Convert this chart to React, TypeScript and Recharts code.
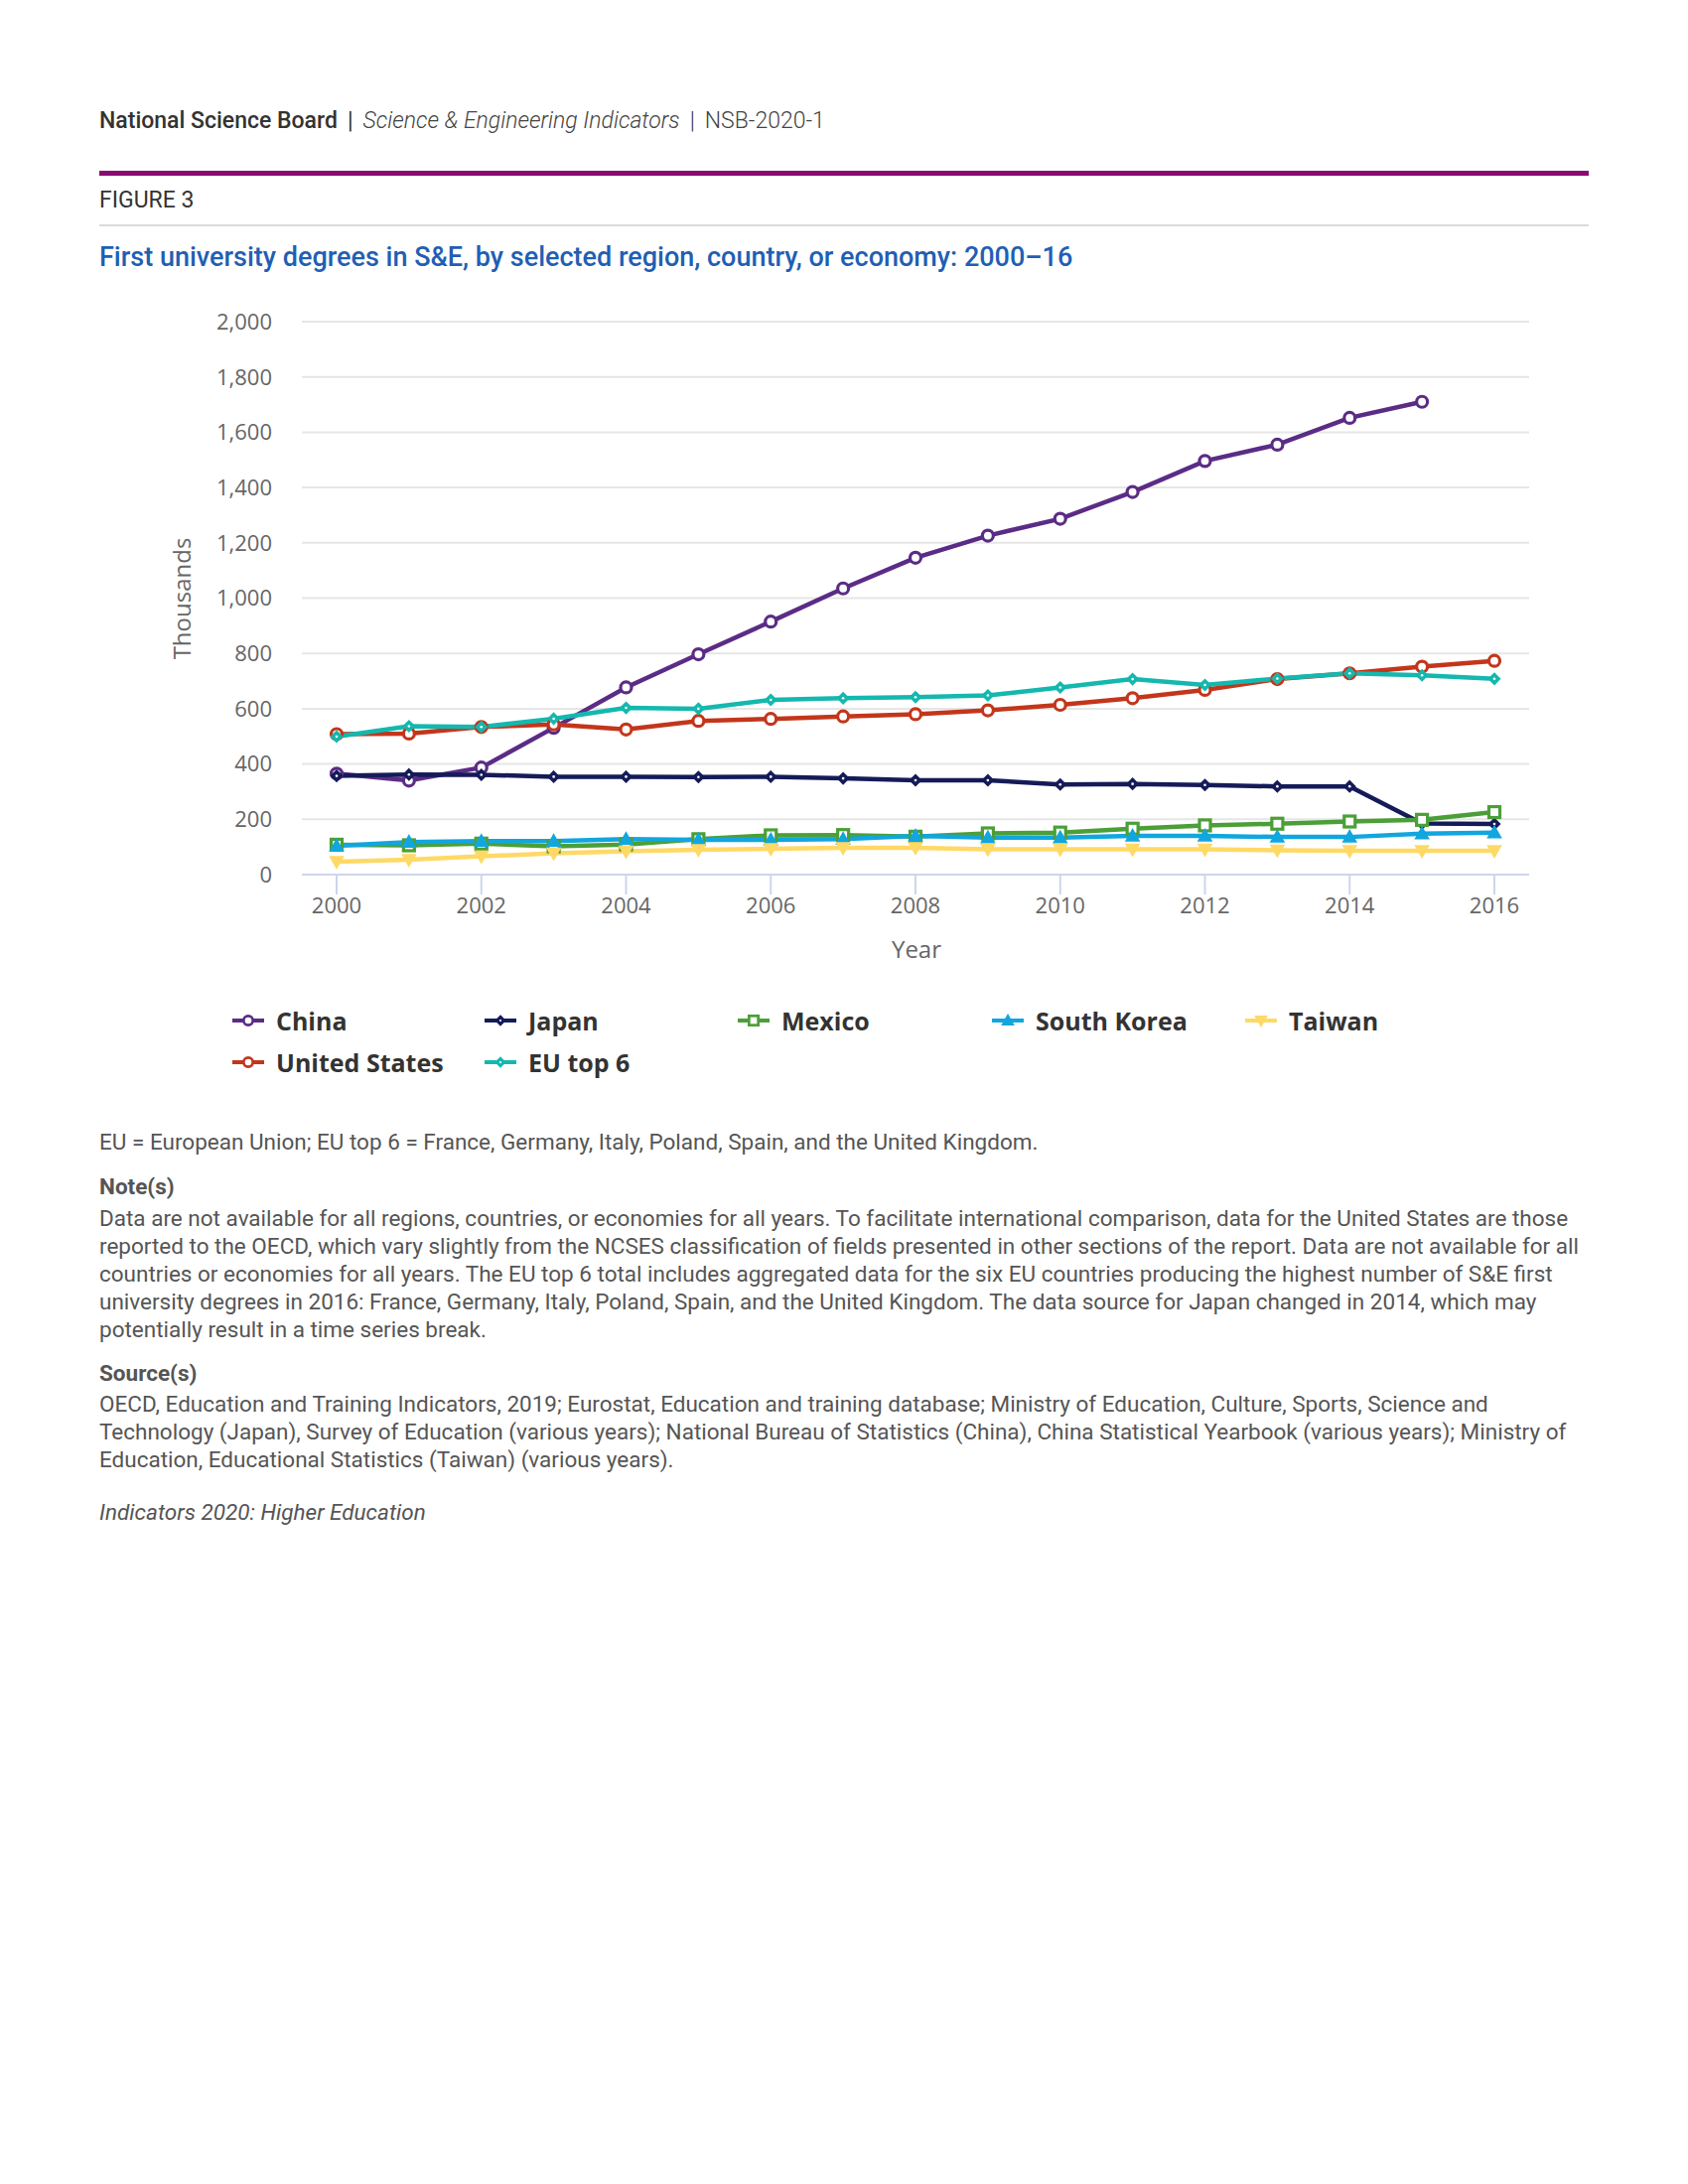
import React from 'react';
import { LineChart, Line, XAxis, YAxis, CartesianGrid, Legend } from 'recharts';

// values in thousands
const years = [2000, 2001, 2002, 2003, 2004, 2005, 2006, 2007, 2008, 2009, 2010, 2011, 2012, 2013, 2014, 2015, 2016];
const china = [365, 340, 387, 531, 677, 797, 915, 1035, 1146, 1226, 1287, 1384, 1496, 1555, 1652, 1710, null];
const japan = [357, 362, 361, 354, 354, 353, 354, 348, 341, 341, 326, 328, 324, 319, 319, 185, 183];
const mexico = [108, 106, 112, 102, 109, 128, 142, 143, 137, 149, 152, 166, 178, 184, 192, 198, 226];
const southKorea = [104, 118, 121, 121, 128, 126, 126, 128, 140, 134, 134, 140, 140, 136, 136, 148, 152];
const taiwan = [47, 54, 66, 77, 84, 90, 93, 97, 97, 92, 92, 92, 92, 88, 86, 86, 86];
const unitedStates = [508, 510, 534, 543, 525, 556, 563, 572, 580, 594, 614, 638, 668, 707, 728, 752, 773];
const euTop6 = [499, 537, 534, 564, 603, 600, 632, 638, 642, 648, 677, 707, 686, 709, 728, 721, 708];
const yTicks = [0, 200, 400, 600, 800, 1000, 1200, 1400, 1600, 1800, 2000];
const xTicks = [2000, 2002, 2004, 2006, 2008, 2010, 2012, 2014, 2016];

type Shape = 'circle' | 'diamond' | 'square' | 'triangle' | 'triangleDown';
type Series = { key: string; name: string; color: string; shape: Shape; values: (number | null)[] };

const series: Series[] = [
  { key: 'china', name: 'China', color: '#5b2c86', shape: 'circle', values: china },
  { key: 'japan', name: 'Japan', color: '#151b58', shape: 'diamond', values: japan },
  { key: 'mexico', name: 'Mexico', color: '#4c9f38', shape: 'square', values: mexico },
  { key: 'southKorea', name: 'South Korea', color: '#12a6de', shape: 'triangle', values: southKorea },
  { key: 'taiwan', name: 'Taiwan', color: '#ffd966', shape: 'triangleDown', values: taiwan },
  { key: 'us', name: 'United States', color: '#c3361b', shape: 'circle', values: unitedStates },
  { key: 'eu', name: 'EU top 6', color: '#14b8ae', shape: 'diamond', values: euTop6 },
];

const data = years.map((year, i) => {
  const row: Record<string, number | null> = { year };
  series.forEach((s) => {
    row[s.key] = s.values[i];
  });
  return row;
});

const legendCols = [234, 488, 743, 999, 1254];

function Marker({ shape, color, x, y, s = 1 }: { shape: Shape; color: string; x: number; y: number; s?: number }) {
  switch (shape) {
    case 'circle':
      return <circle cx={x} cy={y} r={5.5 * s} fill="#fff" stroke={color} strokeWidth={3.2 * s} />;
    case 'square':
      return <rect x={x - 5.5 * s} y={y - 5.5 * s} width={11 * s} height={11 * s} fill="#fff" stroke={color} strokeWidth={3.2 * s} />;
    case 'diamond':
      return (
        <g>
          <path d={`M${x},${y - 5.5 * s} L${x + 5.5 * s},${y} L${x},${y + 5.5 * s} L${x - 5.5 * s},${y} Z`} fill={color} stroke={color} strokeWidth={1.5} />
          <circle cx={x} cy={y} r={1.3 * s} fill="#fff" />
        </g>
      );
    case 'triangle':
      return <path d={`M${x},${y - 6.5 * s} L${x + 6.5 * s},${y + 5 * s} L${x - 6.5 * s},${y + 5 * s} Z`} fill={color} stroke={color} strokeWidth={1.5} />;
    case 'triangleDown':
      return <path d={`M${x},${y + 6.5 * s} L${x + 6.5 * s},${y - 5 * s} L${x - 6.5 * s},${y - 5 * s} Z`} fill={color} stroke={color} strokeWidth={1.5} />;
  }
  return null;
}

const axisFont = { fontFamily: 'Open Sans', fontSize: 22, fill: '#666666' };

// legend keeps the series order (Recharts would sort its payload by name)
const renderLegend = () => (
  <div style={{ position: 'relative', width: 1700, height: 90 }}>
    {series.map((s, i) => {
      const col = i < 5 ? i : i - 5;
      const row = i < 5 ? 0 : 1;
      return (
        <div
          key={s.key}
          style={{
            position: 'absolute',
            left: legendCols[col],
            top: row * 42,
            height: 42,
            display: 'flex',
            alignItems: 'center',
            whiteSpace: 'nowrap',
          }}
        >
          <svg width={32} height={20} style={{ display: 'block' }}>
            <line x1={0} y1={10} x2={32} y2={10} stroke={s.color} strokeWidth={4} />
            <Marker shape={s.shape} color={s.color} x={16} y={10} s={0.85} />
          </svg>
          <span style={{ marginLeft: 12, fontFamily: 'Open Sans', fontWeight: 700, fontSize: 25, color: '#333333' }}>
            {s.name}
          </span>
        </div>
      );
    })}
  </div>
);

const noteLines = [
  'Data are not available for all regions, countries, or economies for all years. To facilitate international comparison, data for the United States are those',
  'reported to the OECD, which vary slightly from the NCSES classification of fields presented in other sections of the report. Data are not available for all',
  'countries or economies for all years. The EU top 6 total includes aggregated data for the six EU countries producing the highest number of S&E first',
  'university degrees in 2016: France, Germany, Italy, Poland, Spain, and the United Kingdom. The data source for Japan changed in 2014, which may',
  'potentially result in a time series break.',
];
const sourceLines = [
  'OECD, Education and Training Indicators, 2019; Eurostat, Education and training database; Ministry of Education, Culture, Sports, Science and',
  'Technology (Japan), Survey of Education (various years); National Bureau of Statistics (China), China Statistical Yearbook (various years); Ministry of',
  'Education, Educational Statistics (Taiwan) (various years).',
];

const textBase: React.CSSProperties = {
  position: 'absolute',
  left: 100,
  fontFamily: 'Roboto',
  whiteSpace: 'nowrap',
};
const noteStyle: React.CSSProperties = { ...textBase, lineHeight: '28px', fontSize: 22.5, color: '#555' };

export default function App() {
  return (
    <div style={{ position: 'absolute', left: 0, top: 0, width: 1700, height: 2200, background: '#fff' }}>
      <div style={{ ...textBase, top: 107, lineHeight: '30px', fontSize: 23, color: '#333' }}>
        <span style={{ fontWeight: 500 }}>National Science Board</span>
        <span style={{ fontWeight: 400, margin: '0 10px' }}>|</span>
        <span style={{ fontWeight: 300, fontStyle: 'italic', color: '#444' }}>Science &amp; Engineering Indicators</span>
        <span style={{ fontWeight: 300, margin: '0 10px' }}>|</span>
        <span style={{ fontWeight: 300, color: '#444' }}>NSB-2020-1</span>
      </div>
      <div style={{ position: 'absolute', left: 100, top: 172, width: 1500, height: 5, background: '#8a0b72' }} />
      <div style={{ ...textBase, top: 187, lineHeight: '30px', fontSize: 23, color: '#333' }}>FIGURE 3</div>
      <div style={{ position: 'absolute', left: 100, top: 226, width: 1500, height: 2, background: '#dadada' }} />
      <div style={{ ...textBase, top: 242, lineHeight: '34px', fontSize: 27, fontWeight: 500, color: '#1f5fb4' }}>
        First university degrees in S&amp;E, by selected region, country, or economy: 2000–16
      </div>

      <div style={{ position: 'absolute', left: 0, top: 280 }}>
        <LineChart width={1700} height={800} data={data} margin={{ top: 44, right: 160, bottom: 169, left: 0 }}>
          <CartesianGrid vertical={false} stroke="#e6e6e6" strokeWidth={2} />
          <XAxis
            dataKey="year"
            type="number"
            height={30}
            domain={[2000, 2016]}
            ticks={xTicks}
            padding={{ left: 35, right: 35 }}
            tick={axisFont}
            tickSize={20}
            tickMargin={3}
            tickLine={{ stroke: '#ccd6eb', strokeWidth: 2 }}
            axisLine={{ stroke: '#ccd6eb', strokeWidth: 2 }}
            label={{
              content: () => (
                <text x={923} y={675} textAnchor="middle" dominantBaseline="central" fontFamily="Open Sans" fontSize={24} fill="#666">
                  Year
                </text>
              ),
            }}
          />
          <YAxis
            type="number"
            width={304}
            domain={[0, 2000]}
            ticks={yTicks}
            tickFormatter={(v: number) => v.toLocaleString('en-US')}
            tick={axisFont}
            tickLine={false}
            axisLine={false}
            tickSize={0}
            tickMargin={30}
            label={{
              content: () => (
                <text
                  x={182}
                  y={323}
                  transform="rotate(-90, 182, 323)"
                  textAnchor="middle"
                  dominantBaseline="central"
                  fontFamily="Open Sans"
                  fontSize={24}
                  fill="#666"
                >
                  Thousands
                </text>
              ),
            }}
          />
          <Legend
            layout="horizontal"
            verticalAlign="middle"
            align="center"
            wrapperStyle={{ left: 0, top: 727, width: 1700 }}
            content={renderLegend}
          />
          {series.map((s) => (
            <Line
              key={s.key}
              dataKey={s.key}
              name={s.name}
              type="linear"
              stroke={s.color}
              strokeWidth={4.5}
              isAnimationActive={false}
              activeDot={false}
              dot={(p: any) => {
                if (p.cx == null || p.cy == null || p.value == null) return <g key={`${s.key}-${p.index}`} />;
                return (
                  <g key={`${s.key}-${p.index}`}>
                    <Marker shape={s.shape} color={s.color} x={p.cx} y={p.cy} />
                  </g>
                );
              }}
            />
          ))}
        </LineChart>
      </div>

      <div style={{ ...noteStyle, top: 1136 }}>
        EU = European Union; EU top 6 = France, Germany, Italy, Poland, Spain, and the United Kingdom.
      </div>
      <div style={{ ...noteStyle, top: 1181, fontWeight: 700 }}>Note(s)</div>
      <div style={{ ...noteStyle, top: 1213 }}>
        {noteLines.map((l) => (
          <div key={l}>{l}</div>
        ))}
      </div>
      <div style={{ ...noteStyle, top: 1369, fontWeight: 700 }}>Source(s)</div>
      <div style={{ ...noteStyle, top: 1400 }}>
        {sourceLines.map((l) => (
          <div key={l}>{l}</div>
        ))}
      </div>
      <div style={{ ...noteStyle, top: 1509, fontStyle: 'italic' }}>Indicators 2020: Higher Education</div>
    </div>
  );
}
